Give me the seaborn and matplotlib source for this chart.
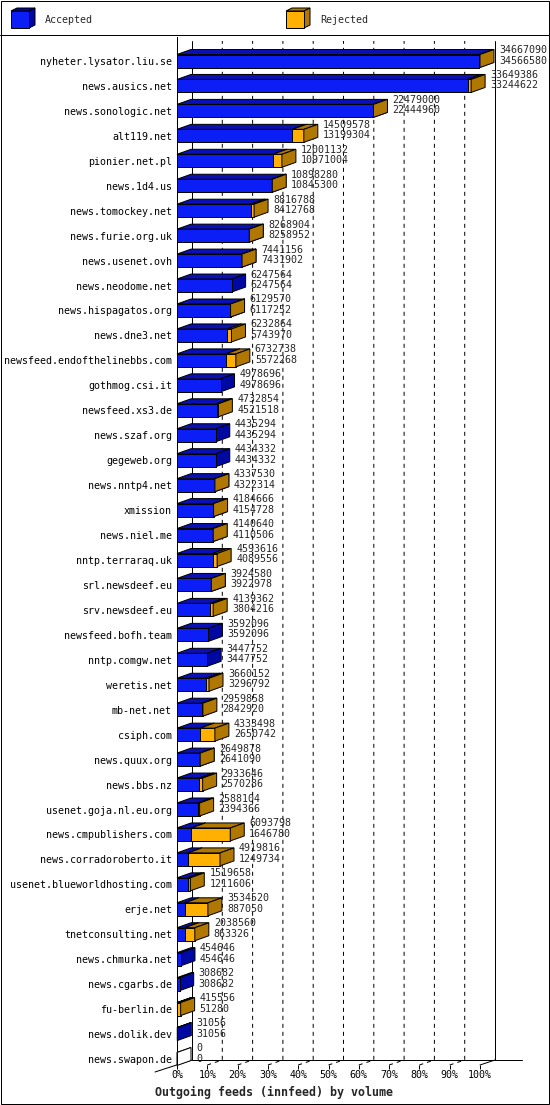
import matplotlib
matplotlib.use("Agg")
from matplotlib import pyplot as plt
from matplotlib.patches import Polygon, Rectangle
import pandas as pd
import seaborn as sns

# innfeed outgoing volume per peer: offered (top number) and accepted (bottom number)
hosts = [
    "nyheter.lysator.liu.se", "news.ausics.net", "news.sonologic.net", "alt119.net",
    "pionier.net.pl", "news.1d4.us", "news.tomockey.net", "news.furie.org.uk",
    "news.usenet.ovh", "news.neodome.net", "news.hispagatos.org", "news.dne3.net",
    "newsfeed.endofthelinebbs.com", "gothmog.csi.it", "newsfeed.xs3.de", "news.szaf.org",
    "gegeweb.org", "news.nntp4.net", "xmission", "news.niel.me",
    "nntp.terraraq.uk", "srl.newsdeef.eu", "srv.newsdeef.eu", "newsfeed.bofh.team",
    "nntp.comgw.net", "weretis.net", "mb-net.net", "csiph.com",
    "news.quux.org", "news.bbs.nz", "usenet.goja.nl.eu.org", "news.cmpublishers.com",
    "news.corradoroberto.it", "usenet.blueworldhosting.com", "erje.net", "tnetconsulting.net",
    "news.chmurka.net", "news.cgarbs.de", "fu-berlin.de", "news.dolik.dev",
    "news.swapon.de",
]
offered = [
    34667090, 33649386, 22479000, 14509578, 12001132, 10898280, 8816788, 8268904,
    7441156, 6247564, 6129570, 6232864, 6732738, 4978696, 4732854, 4435294,
    4434332, 4337530, 4184666, 4140640, 4593616, 3924580, 4139362, 3592096,
    3447752, 3660152, 2959858, 4333498, 2649878, 2933646, 2588104, 6093798,
    4919816, 1519658, 3534520, 2038560, 454646, 308682, 415556, 31056,
    0,
]
accepted = [
    34566580, 33244622, 22444960, 13199304, 10971004, 10845300, 8412768, 8258952,
    7431902, 6247564, 6117252, 5743970, 5572268, 4978696, 4521518, 4435294,
    4434332, 4322314, 4154728, 4110506, 4089556, 3922978, 3804216, 3592096,
    3447752, 3296792, 2842920, 2650742, 2641090, 2570286, 2394366, 1646780,
    1249734, 1211606, 887050, 863326, 454646, 308682, 51280, 31056,
    0,
]

BLUE = '#0A1EF5'
BLUE_TOP = '#0A10B4'
BLUE_SIDE = '#0008A4'
ORANGE = '#FFB000'
BROWN = '#B07800'
LW = 0.72  # one pixel at 100 dpi

W, H = 550, 1105
PX_PCT = 3.03    # pixels per percent
PX_ROW = 24.95   # pixels per row
DX_AX, DY_AX = 15 / PX_PCT, 5 / PX_ROW
DX_BAR, DY_BAR = 14 / PX_PCT, 5 / PX_ROW
BAR_H = 13 / PX_ROW

top_max = max(offered)
df = pd.DataFrame({
    'host': hosts,
    'offered_pct': [v / top_max * 100 for v in offered],
    'accepted_pct': [v / top_max * 100 for v in accepted],
})

sns.set_theme(style="white")
plt.rcParams['font.family'] = ['DejaVu Sans Mono']

fig = plt.figure(figsize=(W / 100, H / 100), dpi=100)

# frame + legend layer in pixel units
bg = fig.add_axes([0, 0, 1, 1], zorder=0)
bg.set_xlim(0, W)
bg.set_ylim(H, 0)
bg.axis('off')
bg.add_patch(Rectangle((0.5, 0.5), W - 1.5, H - 1.5, fill=False, ec='black', lw=LW))
bg.plot([0, W], [34.5, 34.5], color='black', lw=LW)
for x0, front, dark, name in [(11, BLUE, BLUE_SIDE, "Accepted"), (286, ORANGE, BROWN, "Rejected")]:
    bg.add_patch(Polygon([(x0, 11), (x0 + 6, 8), (x0 + 24, 8), (x0 + 18, 11)], fc=dark, ec='black', lw=LW))
    bg.add_patch(Polygon([(x0 + 18, 11), (x0 + 24, 8), (x0 + 24, 25), (x0 + 18, 28)], fc=dark, ec='black', lw=LW))
    bg.add_patch(Rectangle((x0, 11), 18, 17, fc=front, ec='black', lw=LW))
    bg.text(x0 + 34, 20, name, fontsize=7.2, va='center', ha='left')

ax = fig.add_axes([177 / W, 1 - 1065 / H, 303 / W, 1028 / H], zorder=1)
ax.set_facecolor('none')

# front faces
sns.barplot(data=df, x='offered_pct', y='host', orient='h', color=ORANGE, saturation=1,
            width=BAR_H, edgecolor='black', linewidth=LW, errorbar=None, ax=ax, zorder=4)
sns.barplot(data=df, x='accepted_pct', y='host', orient='h', color=BLUE, saturation=1,
            width=BAR_H, edgecolor='black', linewidth=LW, errorbar=None, ax=ax, zorder=5)

y_top = (37 - 61) / PX_ROW
y_front = (1065 - 61) / PX_ROW
y_back = y_front - DY_AX
y_grid = (41 - 61) / PX_ROW

# back plane, grid and floor
for k in range(1, 10):
    x = 10 * k
    ax.plot([x, x + DX_AX, x + DX_AX], [y_front, y_back, y_grid], color='black', lw=LW,
            ls=(0, (4, 4)), zorder=1, clip_on=False)
for x in [DX_AX, 100 + DX_AX]:
    ax.plot([x, x], [y_back, y_grid], color='black', lw=LW, zorder=1, clip_on=False)
ax.plot([DX_AX, (522 - 177) / PX_PCT], [y_back, y_back], color='black', lw=LW, zorder=1, clip_on=False)
ax.plot([(155 - 177) / PX_PCT, DX_AX], [(1072 - 61) / PX_ROW, y_back], color='black', lw=LW,
        zorder=1, clip_on=False)
ax.plot([100, 100 + DX_AX], [y_front, y_back], color='black', lw=LW, zorder=1, clip_on=False)

# 3d top and side faces
for i, (t, a) in enumerate(zip(df['offered_pct'], df['accepted_pct'])):
    top, bot = i - BAR_H / 2, i + BAR_H / 2
    up = top - DY_BAR
    fill_top, fill_side = (BLUE_TOP, BLUE_SIDE) if t > 0 else ('white', 'white')
    ax.add_patch(Polygon([(0, top), (DX_BAR, up), (a + DX_BAR, up), (a, top)],
                         fc=fill_top, ec='black', lw=LW, zorder=3, clip_on=False))
    ax.add_patch(Polygon([(a, top), (a + DX_BAR, up), (a + DX_BAR, bot - DY_BAR), (a, bot)],
                         fc=fill_side, ec='black', lw=LW, zorder=3, clip_on=False))
    if t > a:
        ax.add_patch(Polygon([(a, top), (a + DX_BAR, up), (t + DX_BAR, up), (t, top)],
                             fc=BROWN, ec='black', lw=LW, zorder=6, clip_on=False))
        ax.add_patch(Polygon([(t, top), (t + DX_BAR, up), (t + DX_BAR, bot - DY_BAR), (t, bot)],
                             fc=BROWN, ec='black', lw=LW, zorder=6, clip_on=False))
    tx = t + DX_BAR + 5 / PX_PCT
    ax.text(tx, i - 11 / PX_ROW, f"{offered[i]}", fontsize=7.2, va='center', ha='left', zorder=7)
    ax.text(tx, i - 0.5 / PX_ROW, f"{accepted[i]}", fontsize=7.2, va='center', ha='left', zorder=7)

ax.set_xlim(0, 100)
ax.set_ylim(y_front, y_top)
ax.set_xticks(range(0, 101, 10))
ax.set_xticklabels([f"{k}%" for k in range(0, 101, 10)])
ax.tick_params(axis='x', length=4 * 0.72, width=LW, direction='out', pad=1,
               labelsize=7.2, bottom=True, colors='black')
ax.tick_params(axis='y', length=0, pad=5 * 0.72, labelsize=7.2, colors='black')
ax.set_xlabel('')
ax.set_ylabel('')
for side in ['top', 'right', 'bottom']:
    ax.spines[side].set_visible(False)
ax.spines['left'].set_color('black')
ax.spines['left'].set_linewidth(LW)

fig.text(274 / W, 1 - 1092 / H, "Outgoing feeds (innfeed) by volume", fontsize=8.4,
         fontweight='bold', ha='center', va='center')

fig.savefig("out.png", dpi=100)
